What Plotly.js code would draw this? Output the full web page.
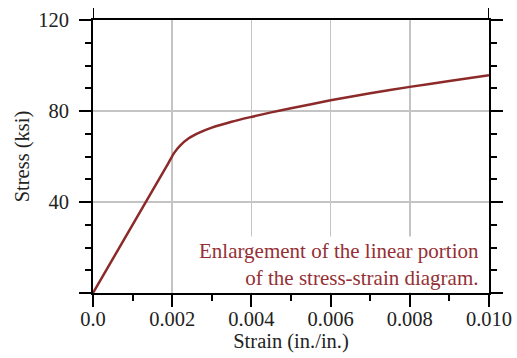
<!DOCTYPE html>
<html>
<head>
<meta charset="utf-8">
<script src="https://cdn.plot.ly/plotly-3.0.1.min.js"></script>
<style>html,body{margin:0;padding:0;background:#fff;}#chart{width:517px;height:358px;}</style>
</head>
<body>
<div id="chart"></div>
<script>
// Strain (in./in.) and stress (ksi)
const strain = [0, 0.0019, 0.00205, 0.0022, 0.0024, 0.0027, 0.003, 0.0035, 0.004, 0.0045, 0.005, 0.006, 0.007, 0.008, 0.009, 0.010];
const stress = [0, 57.0, 61.6, 64.8, 67.8, 70.6, 72.7, 75.3, 77.4, 79.4, 81.2, 84.7, 87.8, 90.6, 93.2, 95.7];

const xTickVals = [0, 0.002, 0.004, 0.006, 0.008, 0.010];
const xTickText = ['0.0', '0.002', '0.004', '0.006', '0.008', '0.010'];
const yTickVals = [0, 40, 80, 120];
const yTickText = ['', '40', '80', '120'];

const xTitle = 'Strain (in./in.)';
const yTitle = 'Stress (ksi)';
const noteText = 'Enlargement of the linear portion<br>of the stress-strain diagram.';

const font = 'Liberation Serif, Times New Roman, serif';
const fs = 20.5;
const curveColor = '#8c2a2a';

const trace = {
  x: strain, y: stress, type: 'scatter', mode: 'lines',
  line: {color: curveColor, width: 2.5, shape: 'spline', smoothing: 0.6},
  hoverinfo: 'skip', showlegend: false
};

const layout = {
  width: 517, height: 358,
  margin: {l: 93, r: 28, t: 20, b: 65},
  paper_bgcolor: '#fff', plot_bgcolor: '#fff',
  font: {family: font, size: fs, color: '#222'},
  xaxis: {
    range: [0, 0.010], tickmode: 'array', tickvals: xTickVals, ticktext: xTickText,
    ticks: 'outside', ticklen: 12, tickwidth: 2, tickcolor: '#000', ticklabelstandoff: -6,
    showline: true, linecolor: '#000', linewidth: 2, mirror: true,
    showgrid: true, gridcolor: '#c4c4c4', gridwidth: 1.5, zeroline: false,
    tickfont: {family: font, size: fs, color: '#222'},
    minor: {tickmode: 'linear', tick0: 0, dtick: 0.001, ticks: 'outside', ticklen: 6, tickwidth: 2, tickcolor: '#000', showgrid: false},
    title: {text: xTitle, font: {family: font, size: fs, color: '#222'}, standoff: 5},
    automargin: false, fixedrange: true
  },
  yaxis: {
    range: [0, 120], tickmode: 'array', tickvals: yTickVals, ticktext: yTickText,
    ticks: 'outside', ticklen: 12, tickwidth: 2, tickcolor: '#000', ticklabelstandoff: 6,
    showline: true, linecolor: '#000', linewidth: 2, mirror: 'ticks',
    showgrid: true, gridcolor: '#c4c4c4', gridwidth: 1.5, zeroline: false,
    tickfont: {family: font, size: fs, color: '#222'},
    minor: {tickmode: 'linear', tick0: 0, dtick: 10, ticks: 'outside', ticklen: 6, tickwidth: 2, tickcolor: '#000', showgrid: false},
    title: {text: yTitle, font: {family: font, size: fs, color: '#222'}, standoff: 3},
    automargin: false, fixedrange: true
  },
  annotations: [{
    text: noteText, xref: 'x', yref: 'paper', x: 0.00982, y: 0,
    xanchor: 'right', yanchor: 'bottom', align: 'right', showarrow: false,
    bgcolor: '#fff', borderpad: 2,
    font: {family: font, size: 21, color: '#943035'}
  }],
  shapes: [
    {type: 'line', xref: 'x', yref: 'paper', x0: 0, x1: 0, ysizemode: 'pixel', yanchor: 1, y0: 0, y1: 12, line: {color: '#000', width: 2}},
    {type: 'line', xref: 'x', yref: 'paper', x0: 0.010, x1: 0.010, ysizemode: 'pixel', yanchor: 1, y0: 0, y1: 12, line: {color: '#000', width: 2}}
  ]
};

Plotly.newPlot('chart', [trace], layout, {displayModeBar: false, staticPlot: true});
</script>
</body>
</html>
